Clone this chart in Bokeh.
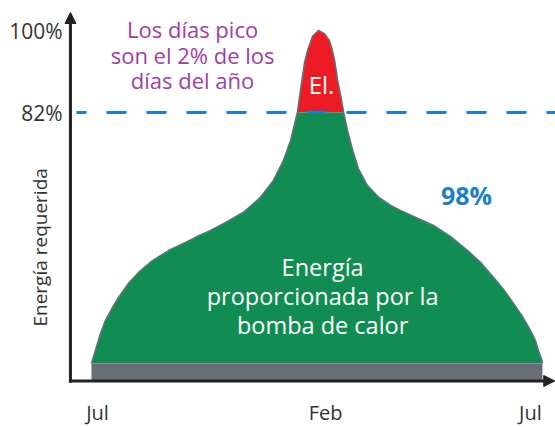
import numpy as np
from bokeh.plotting import figure
from bokeh.models import Range1d, Arrow, NormalHead
from bokeh.core.properties import value
from bokeh.embed import file_html
from bokeh.resources import INLINE

# ---- data (x: months since July, y: % of required peak energy) ----
curve_x = [0.000, 0.106, 0.239, 0.373, 0.559, 0.718, 0.985, 1.251, 1.623, 2.049,
           2.501, 2.767, 3.167, 3.619, 4.045, 4.497, 4.84, 5.11, 5.30, 5.43, 5.48,
           5.56, 5.67, 5.75, 5.88, 6.04,
           6.20, 6.33, 6.41, 6.47, 6.55, 6.63, 6.71, 6.81, 6.95, 7.10, 7.34,
           7.64, 7.96, 8.22, 8.75, 9.10, 9.55, 10.01, 10.35, 10.70, 10.96,
           11.23, 11.47, 11.68, 11.81, 11.89, 11.97, 12.00]
curve_y = [26.9, 29.8, 33.5, 36.4, 39.2, 41.4, 44.5, 46.9, 49.5, 51.7,
           53.5, 54.6, 56.1, 58.1, 60.1, 63.4, 67.1, 71.5, 75.9, 80.3, 82.0,
           86.8, 93.0, 95.6, 98.7, 100.0,
           99.3, 97.8, 95.6, 93.4, 89.0, 85.7, 82.0, 78.1, 73.7, 69.7, 66.0,
           63.4, 61.6, 60.5, 58.5, 57.2, 54.8, 51.7, 49.1, 45.8, 43.2,
           40.1, 37.2, 34.2, 32.0, 29.8, 28.0, 26.9]
base_bottom = 23.3
base_top = 26.9
heat_pump_limit = 82.0

y_ticks = [100, 82]
y_tick_labels = ["100%", "82%"]
x_ticks = [0.16, 6.23, 11.68]
x_tick_labels = ["Jul", "Feb", "Jul"]

title_lines = ["Los días pico", "son el 2% de los", "días del año"]
title_y = [100.4, 94.7, 89.2]
area_lines = ["Energía", "proporcionada por la", "bomba de calor"]
area_y = [48.2, 41.8, 35.3]

# ---- colours / fonts ----
FONT = "Open Sans"
GREEN = "#118d54"
RED = "#ed1c24"
GREY = "#676e78"
BLUE = "#1d7fc5"
PURPLE = "#9e3f9f"
DARK = "#222222"
TEXT = "#333333"

# axis geometry in data units
axis_x = -0.56
axis_y = 23.07
x_lo, x_hi = -2.4215, 12.347
y_lo, y_hi = 12.862, 106.585

p = figure(width=555, height=427, output_backend="svg", toolbar_location=None,
           x_range=Range1d(x_lo, x_hi), y_range=Range1d(y_lo, y_hi),
           x_axis_location=None, y_axis_location=None, min_border=0)
p.grid.visible = False
p.outline_line_color = None
p.background_fill_color = "white"
p.border_fill_color = "white"

cx = np.array(curve_x)
cy = np.array(curve_y)

# green part: up to the heat-pump limit
green_x = [0.0] + list(cx) + [12.0]
green_y = [base_top] + list(np.minimum(cy, heat_pump_limit)) + [base_top]
p.patch(green_x, green_y, fill_color=GREEN, line_color=None)

# red part: above the limit
mask = cy >= heat_pump_limit
p.patch(list(cx[mask]), list(cy[mask]), fill_color=RED, line_color=None)

# outline
p.line(curve_x, curve_y, line_color=GREY, line_width=1.6)

# grey base band
p.quad(left=[0.0], right=[12.0], bottom=[base_bottom], top=[base_top],
       fill_color=GREY, line_color=None)

# dashed limit line
p.segment(x0=[-0.40], y0=[heat_pump_limit], x1=[x_hi], y1=[heat_pump_limit],
          line_color=BLUE, line_width=3, line_dash="20 20", line_dash_offset=10)

# axes with arrows
p.add_layout(Arrow(end=NormalHead(size=11, fill_color=DARK, line_color=DARK),
                   x_start=axis_x, y_start=axis_y - 0.4, x_end=axis_x, y_end=103.95,
                   line_color=DARK, line_width=3))
p.add_layout(Arrow(end=NormalHead(size=11, fill_color=DARK, line_color=DARK),
                   x_start=axis_x - 0.04, y_start=axis_y, x_end=x_hi - 0.02, y_end=axis_y,
                   line_color=DARK, line_width=3))

# tick labels
p.text(x=[-0.77] * len(y_ticks), y=y_ticks, text=y_tick_labels,
       text_font=value(FONT), text_font_size="21px", text_color=TEXT,
       text_align="right", text_baseline="middle")
p.text(x=x_ticks, y=[16.15] * len(x_ticks), text=x_tick_labels,
       text_font=value(FONT), text_font_size="20px", text_color=TEXT,
       text_align="center", text_baseline="middle")

# y axis title
p.text(x=[-1.38], y=[52.4], text=["Energía requerida"], angle=np.pi / 2,
       text_font=value(FONT), text_font_size="19px", text_color=TEXT,
       text_align="center", text_baseline="middle")

# annotation texts
p.text(x=[2.69] * 3, y=title_y, text=title_lines,
       text_font=value(FONT), text_font_size="22px", text_color=PURPLE,
       text_align="center", text_baseline="alphabetic")
p.text(x=[6.15] * 3, y=area_y, text=area_lines,
       text_font=value(FONT), text_font_size="23.5px", text_color="white",
       text_align="center", text_baseline="alphabetic")
p.text(x=[6.12], y=[88.1], text=["El."],
       text_font=value(FONT), text_font_size="24px", text_color="white",
       text_align="center", text_baseline="alphabetic")
p.text(x=[9.98], y=[63.8], text=["98%"],
       text_font=value(FONT), text_font_size="25px", text_font_style="bold",
       text_color=BLUE, text_align="center", text_baseline="alphabetic")

open("out.html", "w").write(file_html(p, INLINE))
